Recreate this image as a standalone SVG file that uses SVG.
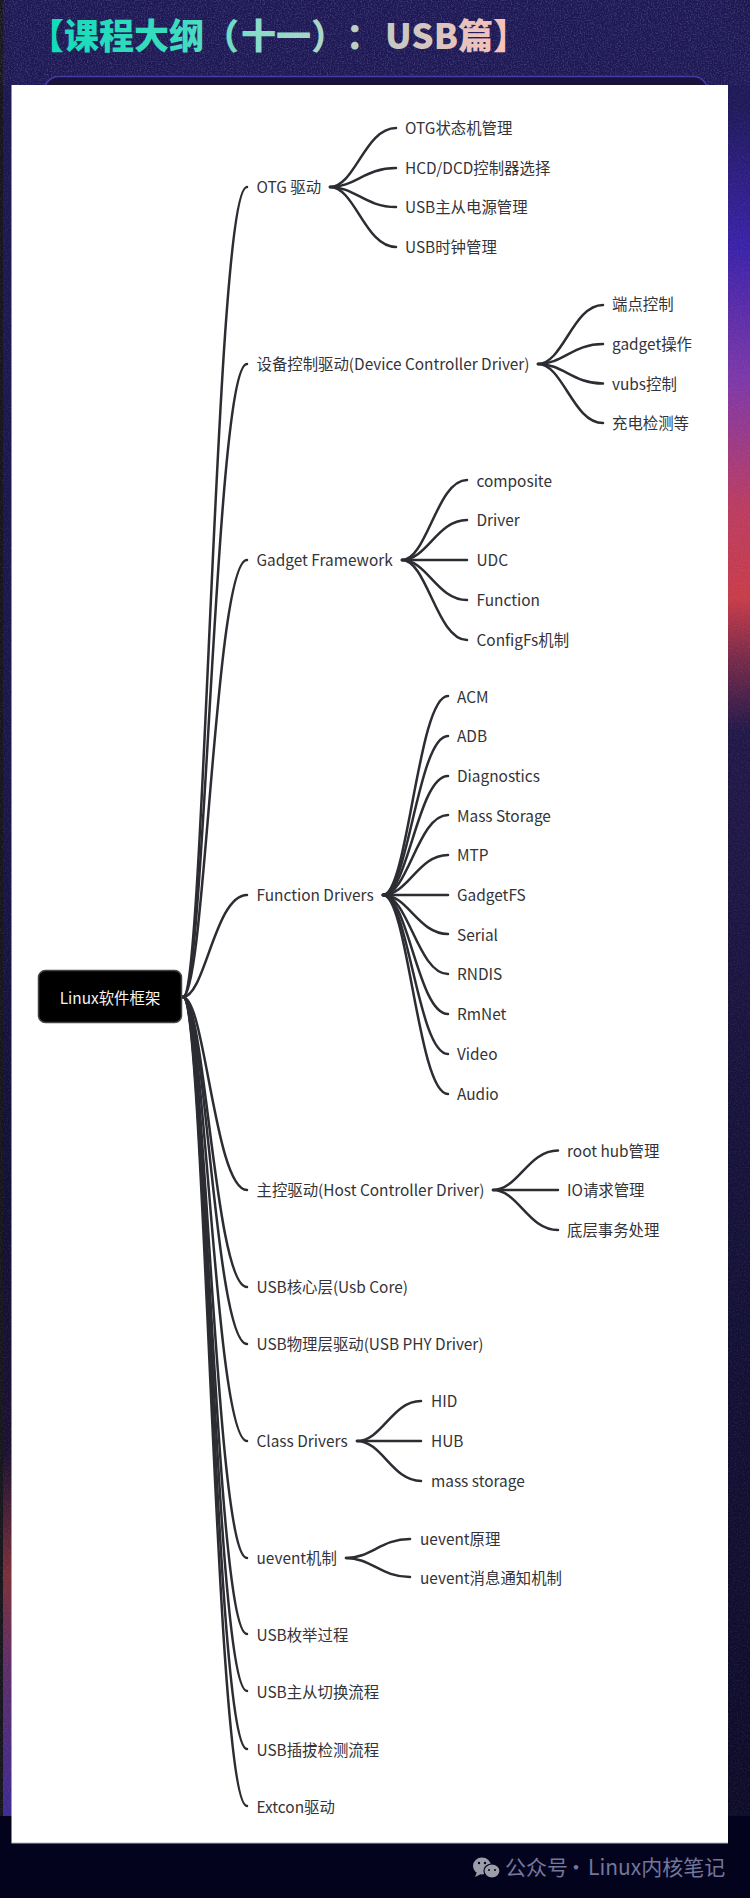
<svg xmlns="http://www.w3.org/2000/svg" width="750" height="1898" viewBox="0 0 750 1898">
<style>
text{font-family:"Noto Sans CJK SC","Noto Sans",sans-serif}
.t{font-size:15.4px;fill:#333338}
.c{fill:none;stroke:#2c2d33;stroke-width:2.500;stroke-linecap:round}
</style>
<defs>
<linearGradient id="right" x1="0" y1="0" x2="0" y2="1898" gradientUnits="userSpaceOnUse">
<stop offset="0" stop-color="#1d1850"/><stop offset="0.055" stop-color="#1f1958"/><stop offset="0.13" stop-color="#3a22a8"/><stop offset="0.2" stop-color="#7d38a8"/><stop offset="0.265" stop-color="#bb3c62"/><stop offset="0.315" stop-color="#c93c48"/><stop offset="0.345" stop-color="#7d2b48"/><stop offset="0.385" stop-color="#221848"/><stop offset="0.6" stop-color="#16123a"/><stop offset="0.955" stop-color="#0e0b28"/>
</linearGradient>
<linearGradient id="left" x1="0" y1="0" x2="0" y2="1898" gradientUnits="userSpaceOnUse">
<stop offset="0" stop-color="#1d1850"/><stop offset="0.4" stop-color="#1b1648"/><stop offset="0.63" stop-color="#120f34"/><stop offset="0.765" stop-color="#1a1030"/><stop offset="0.83" stop-color="#7a3038"/><stop offset="0.88" stop-color="#5c2e68"/><stop offset="0.955" stop-color="#3f2a90"/>
</linearGradient>
<linearGradient id="title" x1="45" y1="0" x2="512" y2="0" gradientUnits="userSpaceOnUse">
<stop offset="0" stop-color="#10dcb8"/><stop offset="0.3" stop-color="#40dcc0"/><stop offset="0.45" stop-color="#88dcc8"/><stop offset="0.62" stop-color="#b4d4c6"/><stop offset="0.75" stop-color="#c8c8c2"/><stop offset="1" stop-color="#fcc0b8"/>
</linearGradient>
<filter id="noise" x="0" y="0" width="100%" height="100%">
<feTurbulence type="fractalNoise" baseFrequency="0.7" numOctaves="2" seed="4"/>
<feColorMatrix values="0 0 0 0 0.55  0 0 0 0 0.55  0 0 0 0 0.9  1.6 0 0 0 -0.7"/>
</filter>
</defs>

<g id="background">
<rect width="750" height="1898" fill="#1c174e"/>
<rect x="0" y="0" width="750" height="90" fill="#1e1954"/>
<rect x="728" y="0" width="22" height="1816" fill="url(#right)"/>
<rect x="0" y="0" width="12" height="1816" fill="url(#left)"/>
<rect x="0" y="0" width="3" height="1816" fill="#17151c"/>
<rect x="0" y="0" width="750" height="85" filter="url(#noise)" opacity="0.34"/>
<rect x="728" y="85" width="22" height="1731" filter="url(#noise)" opacity="0.16"/>
<rect x="0" y="85" width="12" height="1731" filter="url(#noise)" opacity="0.16"/>
<rect x="0" y="1816" width="750" height="82" fill="#03031e"/>
<rect x="44.500" y="76.500" width="663" height="60" rx="14" fill="#17133c" stroke="#4a3aa4" stroke-width="1.500"/>
</g>

<text id="title" y="49" font-size="35" font-weight="900" fill="url(#title)"><tspan x="29">【课程大纲（</tspan><tspan x="241">十一</tspan><tspan x="311">）</tspan><tspan x="346">：</tspan><tspan x="385">USB篇】</tspan></text>

<rect id="canvas" x="11.500" y="85" width="716.500" height="1758" fill="#ffffff" stroke="none"/>
<rect x="11.500" y="1842.500" width="716.500" height="1" fill="#b4b4c4"/>

<g id="connectors">
<path class="c" d="M183 997C205 997 215 187 247 187"/>
<path class="c" d="M183 997C205 997 215 364 247 364"/>
<path class="c" d="M183 997C205 997 215 560 247 560"/>
<path class="c" d="M183 997C205 997 215 895 247 895"/>
<path class="c" d="M183 997C205 997 215 1190 247 1190"/>
<path class="c" d="M183 997C205 997 215 1287 247 1287"/>
<path class="c" d="M183 997C205 997 215 1344 247 1344"/>
<path class="c" d="M183 997C205 997 215 1441 247 1441"/>
<path class="c" d="M183 997C205 997 215 1558 247 1558"/>
<path class="c" d="M183 997C205 997 215 1634 247 1634"/>
<path class="c" d="M183 997C205 997 215 1691 247 1691"/>
<path class="c" d="M183 997C205 997 215 1749 247 1749"/>
<path class="c" d="M183 997C205 997 215 1806 247 1806"/>

<path class="c" d="M330 187C355 187 365 128 396 128"/>
<path class="c" d="M330 187C355 187 365 168 396 168"/>
<path class="c" d="M330 187C355 187 365 207 396 207"/>
<path class="c" d="M330 187C355 187 365 247 396 247"/>

<path class="c" d="M538 364C563 364 573 305 603 305"/>
<path class="c" d="M538 364C563 364 573 344 603 344"/>
<path class="c" d="M538 364C563 364 573 383.500 603 383.500"/>
<path class="c" d="M538 364C563 364 573 423 603 423"/>

<path class="c" d="M402 560C427 560 437 480 467 480"/>
<path class="c" d="M402 560C427 560 437 520 467 520"/>
<path class="c" d="M402 560H467"/>
<path class="c" d="M402 560C427 560 437 600 467 600"/>
<path class="c" d="M402 560C427 560 437 640 467 640"/>

<path class="c" d="M383 895C408 895 418 696 448 696"/>
<path class="c" d="M383 895C408 895 418 736 448 736"/>
<path class="c" d="M383 895C408 895 418 776 448 776"/>
<path class="c" d="M383 895C408 895 418 815 448 815"/>
<path class="c" d="M383 895C408 895 418 855 448 855"/>
<path class="c" d="M383 895H448"/>
<path class="c" d="M383 895C408 895 418 934 448 934"/>
<path class="c" d="M383 895C408 895 418 974 448 974"/>
<path class="c" d="M383 895C408 895 418 1014 448 1014"/>
<path class="c" d="M383 895C408 895 418 1054 448 1054"/>
<path class="c" d="M383 895C408 895 418 1094 448 1094"/>

<path class="c" d="M493 1190C518 1190 528 1150.500 558 1150.500"/>
<path class="c" d="M493 1190H558"/>
<path class="c" d="M493 1190C518 1190 528 1230 558 1230"/>

<path class="c" d="M357 1441C382 1441 392 1401 421 1401"/>
<path class="c" d="M357 1441H421"/>
<path class="c" d="M357 1441C382 1441 392 1481 421 1481"/>

<path class="c" d="M346 1558C371 1558 381 1539 410 1539"/>
<path class="c" d="M346 1558C371 1558 381 1577 410 1577"/>
</g>

<g id="root"><rect x="38.500" y="970.500" width="143" height="52" rx="7" fill="#000" stroke="#444448" stroke-width="1.500"/><text x="110" y="1003.500" text-anchor="middle" font-size="15.400" fill="#f4f4f4">Linux软件框架</text></g>

<g id="n1"><text class="t" x="256.500" y="193">OTG 驱动</text></g>
<g id="n1-1"><text class="t" x="405" y="134">OTG状态机管理</text></g>
<g id="n1-2"><text class="t" x="405" y="173.500">HCD/DCD控制器选择</text></g>
<g id="n1-3"><text class="t" x="405" y="213">USB主从电源管理</text></g>
<g id="n1-4"><text class="t" x="405" y="252.500">USB时钟管理</text></g>

<g id="n2"><text class="t" x="256.500" y="369.500">设备控制驱动(Device Controller Driver)</text></g>
<g id="n2-1"><text class="t" x="612" y="310">端点控制</text></g>
<g id="n2-2"><text class="t" x="612" y="349.500">gadget操作</text></g>
<g id="n2-3"><text class="t" x="612" y="389.500">vubs控制</text></g>
<g id="n2-4"><text class="t" x="612" y="428.500">充电检测等</text></g>

<g id="n3"><text class="t" x="256.500" y="565.500">Gadget Framework</text></g>
<g id="n3-1"><text class="t" x="476.500" y="486.500">composite</text></g>
<g id="n3-2"><text class="t" x="476.500" y="526">Driver</text></g>
<g id="n3-3"><text class="t" x="476.500" y="565.500">UDC</text></g>
<g id="n3-4"><text class="t" x="476.500" y="605.500">Function</text></g>
<g id="n3-5"><text class="t" x="476.500" y="645.500">ConfigFs机制</text></g>

<g id="n4"><text class="t" x="256.500" y="900.500">Function Drivers</text></g>
<g id="n4-1"><text class="t" x="457" y="702.500">ACM</text></g>
<g id="n4-2"><text class="t" x="457" y="742">ADB</text></g>
<g id="n4-3"><text class="t" x="457" y="781.500">Diagnostics</text></g>
<g id="n4-4"><text class="t" x="457" y="821.500">Mass Storage</text></g>
<g id="n4-5"><text class="t" x="457" y="861">MTP</text></g>
<g id="n4-6"><text class="t" x="457" y="900.500">GadgetFS</text></g>
<g id="n4-7"><text class="t" x="457" y="940.500">Serial</text></g>
<g id="n4-8"><text class="t" x="457" y="980">RNDIS</text></g>
<g id="n4-9"><text class="t" x="457" y="1020">RmNet</text></g>
<g id="n4-10"><text class="t" x="457" y="1059.500">Video</text></g>
<g id="n4-11"><text class="t" x="457" y="1099.500">Audio</text></g>

<g id="n5"><text class="t" x="256.500" y="1196">主控驱动(Host Controller Driver)</text></g>
<g id="n5-1"><text class="t" x="567" y="1156.500">root hub管理</text></g>
<g id="n5-2"><text class="t" x="567" y="1196">IO请求管理</text></g>
<g id="n5-3"><text class="t" x="567" y="1236">底层事务处理</text></g>

<g id="n6"><text class="t" x="256.500" y="1293">USB核心层(Usb Core)</text></g>
<g id="n7"><text class="t" x="256.500" y="1350">USB物理层驱动(USB PHY Driver)</text></g>

<g id="n8"><text class="t" x="256.500" y="1447">Class Drivers</text></g>
<g id="n8-1"><text class="t" x="431" y="1407">HID</text></g>
<g id="n8-2"><text class="t" x="431" y="1447">HUB</text></g>
<g id="n8-3"><text class="t" x="431" y="1487">mass storage</text></g>

<g id="n9"><text class="t" x="256.500" y="1564">uevent机制</text></g>
<g id="n9-1"><text class="t" x="420" y="1544.500">uevent原理</text></g>
<g id="n9-2"><text class="t" x="420" y="1583.500">uevent消息通知机制</text></g>

<g id="n10"><text class="t" x="256.500" y="1640.500">USB枚举过程</text></g>
<g id="n11"><text class="t" x="256.500" y="1697.500">USB主从切换流程</text></g>
<g id="n12"><text class="t" x="256.500" y="1755.500">USB插拔检测流程</text></g>
<g id="n13"><text class="t" x="256.500" y="1813">Extcon驱动</text></g>

<g id="watermark">
<ellipse cx="482" cy="1866" rx="9" ry="8.500" fill="#9d9da8"/>
<path d="M477 1872l-2 5 6-3z" fill="#9d9da8"/>
<ellipse cx="492" cy="1871" rx="8" ry="7" fill="#9d9da8" stroke="#03031e" stroke-width="1.200"/>
<circle cx="479" cy="1863" r="1.200" fill="#03031e"/><circle cx="485" cy="1863" r="1.200" fill="#03031e"/>
<circle cx="489" cy="1870" r="1" fill="#03031e"/><circle cx="495" cy="1870" r="1" fill="#03031e"/>
<text y="1875" font-size="21" fill="#74769a"><tspan x="505">公众号</tspan><tspan x="565.500">·</tspan><tspan x="588">Linux内核笔记</tspan></text>
</g>
</svg>
